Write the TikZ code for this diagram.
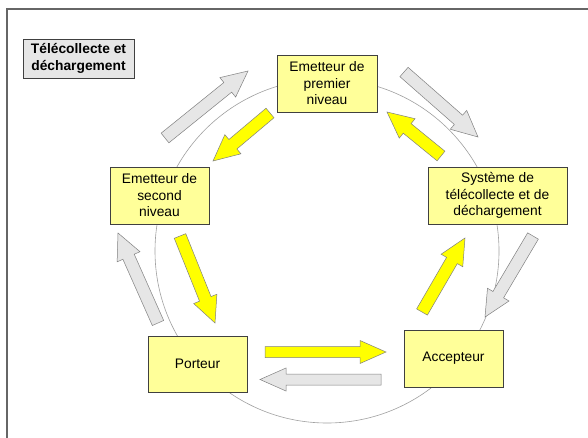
\documentclass[tikz,border=0pt]{standalone}
\usepackage{fontspec}
\setmainfont{Liberation Sans}
\usetikzlibrary{calc}
\definecolor{boxyellow}{HTML}{FFFF99}
\definecolor{arryellow}{HTML}{FFFF00}
\definecolor{arrgray}{HTML}{E6E6E6}
\definecolor{titlegray}{HTML}{E6E6E6}
\definecolor{edgegray}{HTML}{404040}
\definecolor{arredge}{HTML}{808080}
\definecolor{circgray}{HTML}{A0A0A0}
% #1 style, #2 from, #3 to, #4 shaft half width, #5 head half width
\newcommand\blockarr[5]{%
  \coordinate (ba-c) at ($(#3)!26pt!(#2)$);
  \draw[#1] ($(#2)!#4pt!90:(#3)$) -- ($(ba-c)!#4pt!90:(#3)$) -- ($(ba-c)!#5pt!90:(#3)$) -- (#3)
    -- ($(ba-c)!#5pt!-90:(#3)$) -- ($(ba-c)!#4pt!-90:(#3)$) -- ($(#2)!#4pt!-90:(#3)$) -- cycle;}
\begin{document}
\begin{tikzpicture}[x=1pt,y=-1pt,
  box/.style={draw=edgegray, line width=0.8pt, fill=boxyellow, align=center, inner sep=0pt,
    font=\fontsize{13.8}{16.5}\selectfont},
  titlebox/.style={draw=edgegray, line width=0.8pt, fill=titlegray, align=center, inner sep=0pt,
    font=\fontsize{13.8}{16.5}\selectfont\bfseries},
  yarr/.style={fill=arryellow, draw=arredge, line width=0.5pt, line join=miter},
  garr/.style={fill=arrgray, draw=arredge, line width=0.5pt, line join=miter}]
\useasboundingbox (0,0) rectangle (588,438);
\fill[white] (0,0) rectangle (588,438);
\draw[edgegray!80, line width=1.2pt] (7,440) -- (7,9) -- (590,9);
\draw[circgray, line width=0.6pt] (327,251) circle[radius=172];
\node[titlebox, minimum width=111, minimum height=39] (title) at (78.5,58.5) {Télécollecte et\\déchargement};
\node[box, minimum width=100, minimum height=57] (prem) at (327,83.5) {Emetteur de\\premier\\niveau};
\node[box, minimum width=139, minimum height=57] (sys) at (497.5,195.5) {Système de\\télécollecte et de\\déchargement};
\node[box, minimum width=99, minimum height=57] (sec) at (159.5,195.5) {Emetteur de\\second\\niveau};
\node[box, minimum width=99, minimum height=56] (port) at (197.5,364) {Porteur};
\node[box, minimum width=99, minimum height=57] (acc) at (453.5,358.5) {Accepteur};
% arrow end points
\coordinate (g1a) at (165,138); \coordinate (g1b) at (248,71);
\coordinate (y1a) at (270,113); \coordinate (y1b) at (213,161);
\coordinate (g2a) at (404,72);  \coordinate (g2b) at (478,137);
\coordinate (y2a) at (441,156); \coordinate (y2b) at (387,112);
\coordinate (g3a) at (158,323); \coordinate (g3b) at (118,233);
\coordinate (y3a) at (180,236); \coordinate (y3b) at (215,323);
\coordinate (g4a) at (533,236); \coordinate (g4b) at (485,317);
\coordinate (y4a) at (422,312); \coordinate (y4b) at (465,238);
\coordinate (y5a) at (265,352); \coordinate (y5b) at (386,352);
\coordinate (g5a) at (381,379.5); \coordinate (g5b) at (260,379.5);
\blockarr{garr}{g1a}{g1b}{6.2}{12.5}
\blockarr{yarr}{y1a}{y1b}{6.2}{12.5}
\blockarr{garr}{g2a}{g2b}{6.2}{12.5}
\blockarr{yarr}{y2a}{y2b}{6.2}{12.5}
\blockarr{garr}{g3a}{g3b}{6.2}{12.5}
\blockarr{yarr}{y3a}{y3b}{6.2}{12.5}
\blockarr{garr}{g4a}{g4b}{6.2}{12.5}
\blockarr{yarr}{y4a}{y4b}{6.2}{12.5}
\blockarr{yarr}{y5a}{y5b}{5.5}{11.5}
\blockarr{garr}{g5a}{g5b}{5.5}{11.5}
\end{tikzpicture}
\end{document}
